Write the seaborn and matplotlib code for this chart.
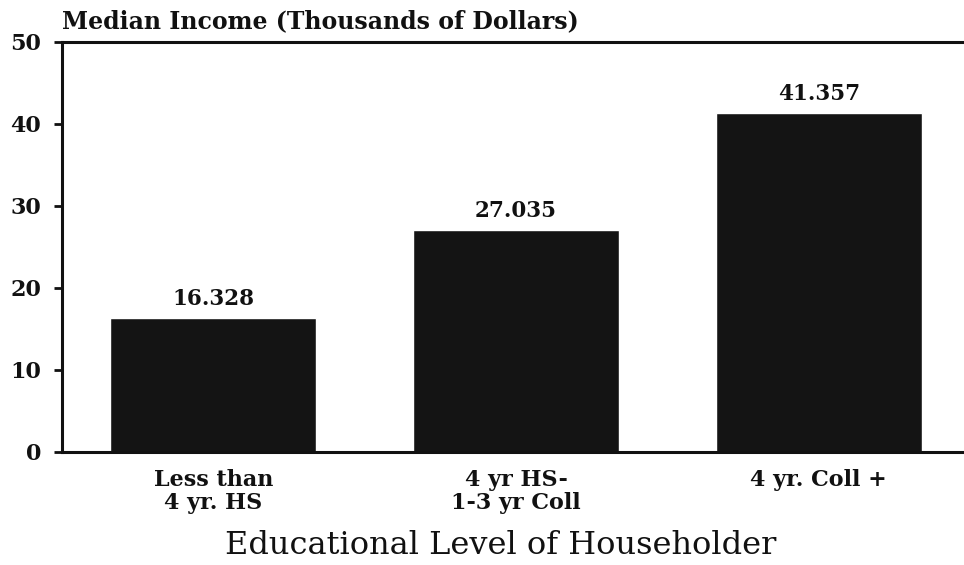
import seaborn as sns
import pandas as pd
import matplotlib.pyplot as plt

# data
levels = ["Less than\n4 yr. HS", "4 yr HS-\n1-3 yr Coll", "4 yr. Coll +"]
income = [16.328, 27.035, 41.357]

df = pd.DataFrame({"level": levels, "income": income})

sns.set_theme(style="ticks")
plt.rcParams['font.family'] = ['DejaVu Serif']

fig = plt.figure(figsize=(9.64, 5.65), dpi=100)
ax = fig.add_axes([0.0643, 0.2, 0.942, 0.7257])

sns.barplot(data=df, x="level", y="income", color="#141414", saturation=1,
            width=0.68, ax=ax)

ax.bar_label(ax.containers[0], fmt="%.3f", padding=6, fontsize=15.5,
             fontweight="bold", color="#111111")

ax.set_ylim(0, 50)
ax.set_xlim(-0.5, 2.5)
ax.set_yticks([0, 10, 20, 30, 40, 50])
ax.tick_params(axis="y", length=6, width=2, labelsize=16, pad=9, colors="#111111")
ax.tick_params(axis="x", length=0, labelsize=16, pad=12, colors="#111111")
for lab in ax.get_yticklabels() + ax.get_xticklabels():
    lab.set_fontweight("bold")
    lab.set_linespacing(1.1)

for side in ["left", "top", "bottom", "right"]:
    ax.spines[side].set_linewidth(2.2)
    ax.spines[side].set_color("#111111")

ax.set_ylabel("")
ax.set_xlabel("Educational Level of Householder", fontsize=23, color="#111111")
ax.xaxis.set_label_coords(0.483, -0.19)
ax.set_title("Median Income (Thousands of Dollars)", loc="left", fontsize=17,
             fontweight="bold", pad=10, color="#111111", x=0.0)

fig.savefig("out.png", dpi=100)
